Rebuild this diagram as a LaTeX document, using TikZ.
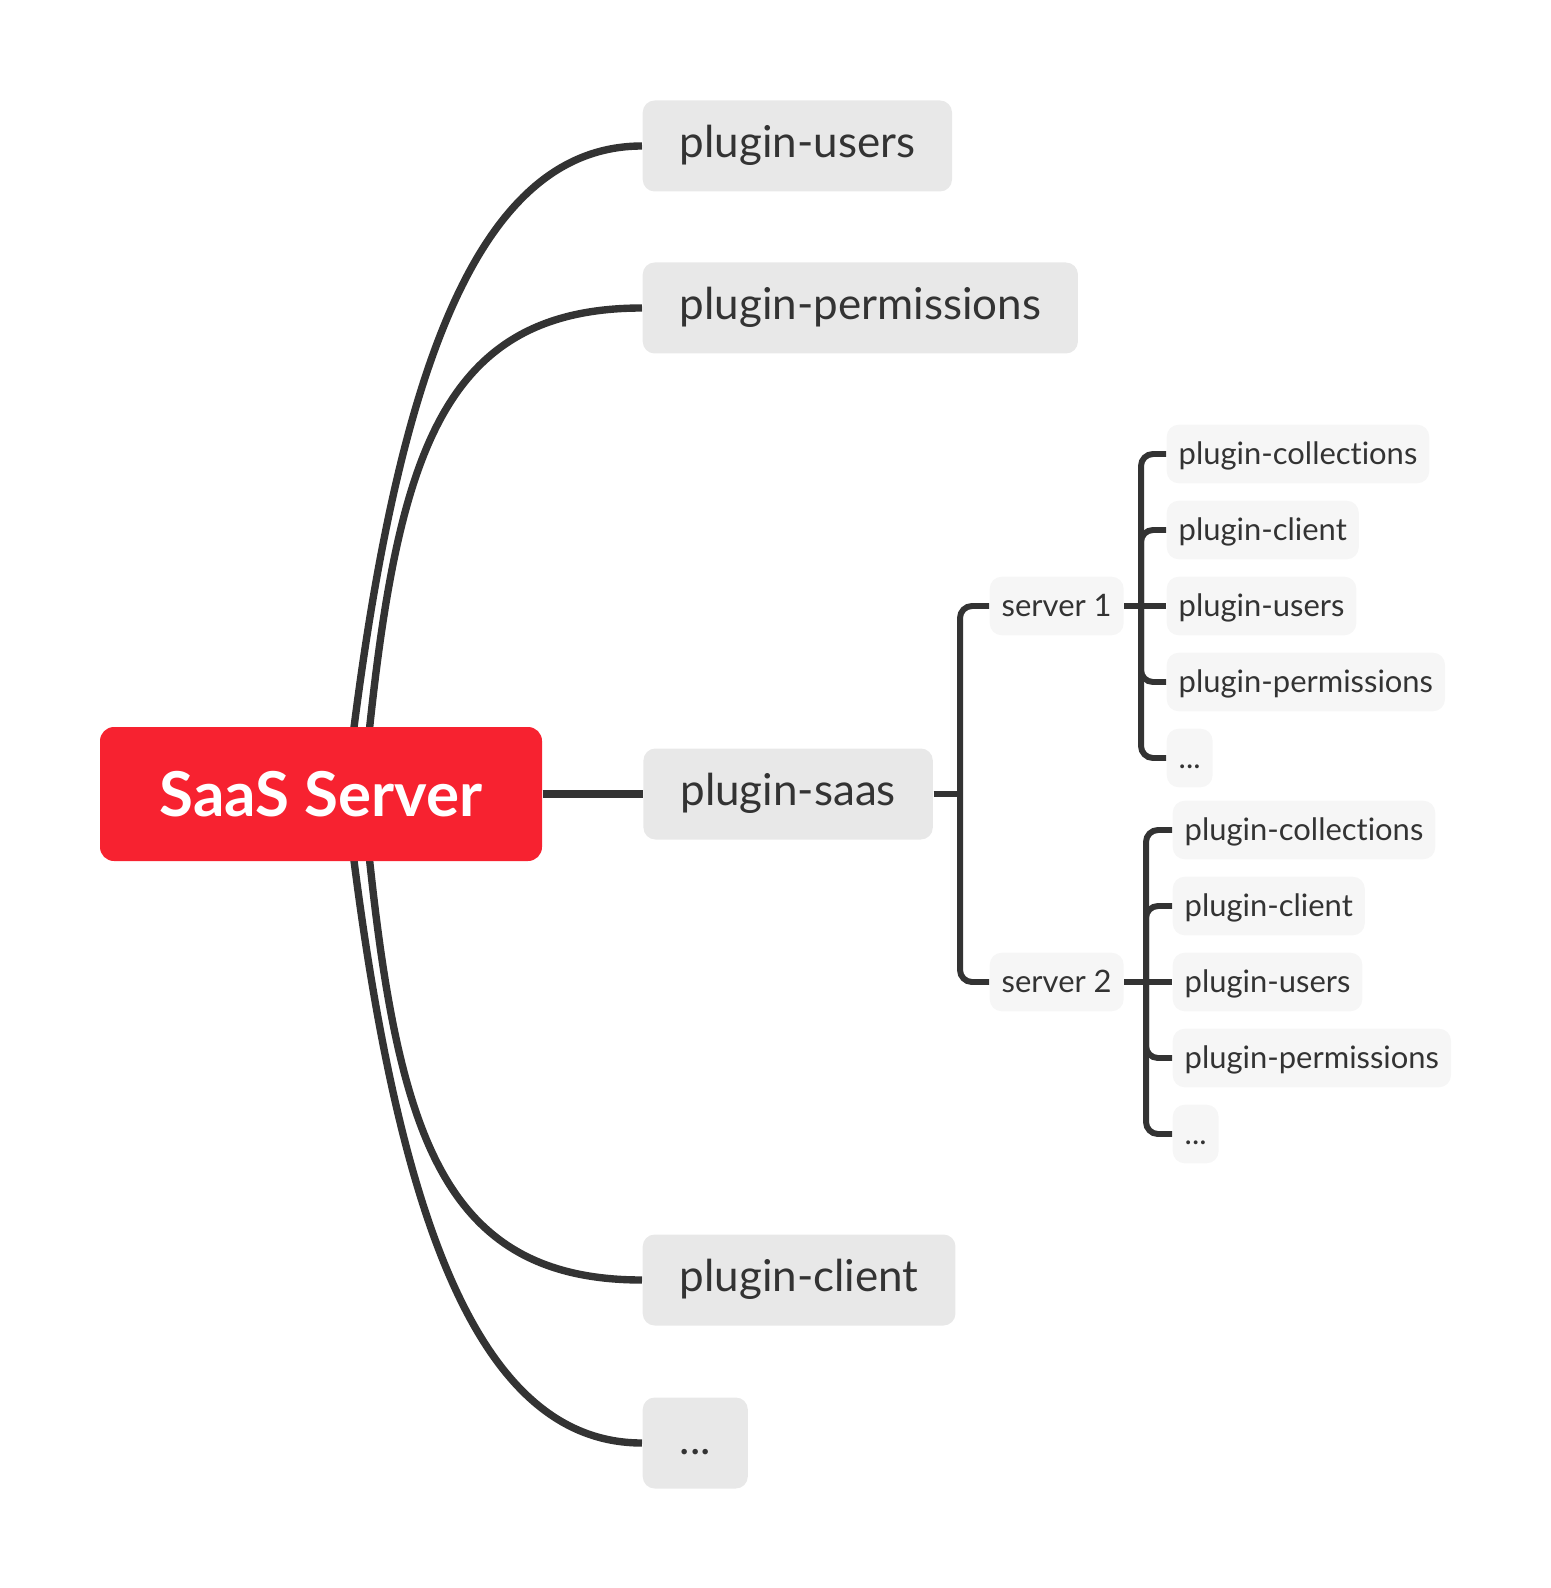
\documentclass[tikz,border=0pt]{standalone}
\usepackage{fontspec}
\setmainfont{Lato}[Ligatures=NoCommon]
\usetikzlibrary{positioning,backgrounds}
\definecolor{rootred}{RGB}{247,34,48}
\definecolor{boxgray}{RGB}{232,232,232}
\definecolor{leafgray}{RGB}{246,246,246}
\definecolor{ink}{RGB}{51,51,51}

\begin{document}
\begin{tikzpicture}[
    rootbox/.style={fill=rootred, text=white, rounded corners=0.14cm, minimum width=4.42cm, minimum height=1.34cm, font=\fontsize{17.6}{21}\selectfont\bfseries},
    mainbox/.style={fill=boxgray, text=ink, rounded corners=0.12cm, anchor=west, inner xsep=0.37cm, minimum height=0.91cm, text height=0.82em, text depth=0.18em, font=\fontsize{12.5}{15}\selectfont},
    leafbox/.style={fill=leafgray, text=ink, rounded corners=0.12cm, anchor=west, inner xsep=0.12cm, minimum height=0.58cm, text height=0.79em, text depth=0.21em, font=\fontsize{8.8}{10.5}\selectfont},
    link/.style={draw=ink, line width=2.1pt},
    sublink/.style={draw=ink, line width=1.7pt, rounded corners=0.12cm}
  ]
  \useasboundingbox (0,0) rectangle (15.5,-15.88);

  % raiz
  \node[rootbox] (root) at (3.21,-7.94) {SaaS Server};

  % ramos
  \node[mainbox] (users) at (6.42,-1.46) {plugin-users};
  \node[mainbox] (perms) at (6.42,-3.08) {plugin-permissions};
  \node[mainbox, right=1cm of root] (saas) {plugin-saas};
  \node[mainbox] (client) at (6.42,-12.80) {plugin-client};
  \node[mainbox] (more) at (6.42,-14.43) {...};

  % servidores
  \node[leafbox] (s1) at (9.89,-6.06) {server 1};
  \node[leafbox] (s2) at (9.89,-9.82) {server 2};

  % server 1
  \node[leafbox] (s1a) at (11.66,-4.54) {plugin-collections};
  \node[leafbox] (s1b) at (11.66,-5.30) {plugin-client};
  \node[leafbox] (s1c) at (11.66,-6.06) {plugin-users};
  \node[leafbox] (s1d) at (11.66,-6.82) {plugin-permissions};
  \node[leafbox] (s1e) at (11.66,-7.58) {...};

  % server 2
  \node[leafbox] (s2a) at (11.72,-8.30) {plugin-collections};
  \node[leafbox] (s2b) at (11.72,-9.06) {plugin-client};
  \node[leafbox] (s2c) at (11.72,-9.82) {plugin-users};
  \node[leafbox] (s2d) at (11.72,-10.58) {plugin-permissions};
  \node[leafbox] (s2e) at (11.72,-11.34) {...};

  % ligacoes da raiz
  \begin{scope}[on background layer]
    \draw[link] ([xshift=0.25cm]root.center) .. controls +(0.45,4.0) and +(-1.72,0) .. (users.west);
    \draw[link] ([xshift=0.42cm]root.center) .. controls +(0.30,3.2) and +(-2.12,0) .. (perms.west);
    \draw[link] ([xshift=0.42cm]root.center) .. controls +(0.30,-3.2) and +(-2.12,0) .. (client.west);
    \draw[link] ([xshift=0.25cm]root.center) .. controls +(0.45,-4.0) and +(-1.72,0) .. (more.west);
  \end{scope}
  \draw[link] (root.east) -- (saas.west);

  % plugin-saas -> servidores
  \coordinate (j0) at ([xshift=-0.29cm]s1.west |- saas.east);
  \draw[sublink] (saas.east) -- (j0);
  \draw[sublink] (s1.west) -| (j0) |- (s2.west);

  % server 1 -> plugins
  \coordinate (j1) at ([xshift=-0.25cm]s1c.west);
  \draw[sublink] (s1a.west) -| (j1) |- (s1e.west);
  \draw[sublink] (s1b.west) -| (j1);
  \draw[sublink] (s1d.west) -| (j1);
  \draw[sublink] (s1.east) -- (s1c.west);

  % server 2 -> plugins
  \coordinate (j2) at ([xshift=-0.26cm]s2c.west);
  \draw[sublink] (s2a.west) -| (j2) |- (s2e.west);
  \draw[sublink] (s2b.west) -| (j2);
  \draw[sublink] (s2d.west) -| (j2);
  \draw[sublink] (s2.east) -- (s2c.west);
\end{tikzpicture}
\end{document}
